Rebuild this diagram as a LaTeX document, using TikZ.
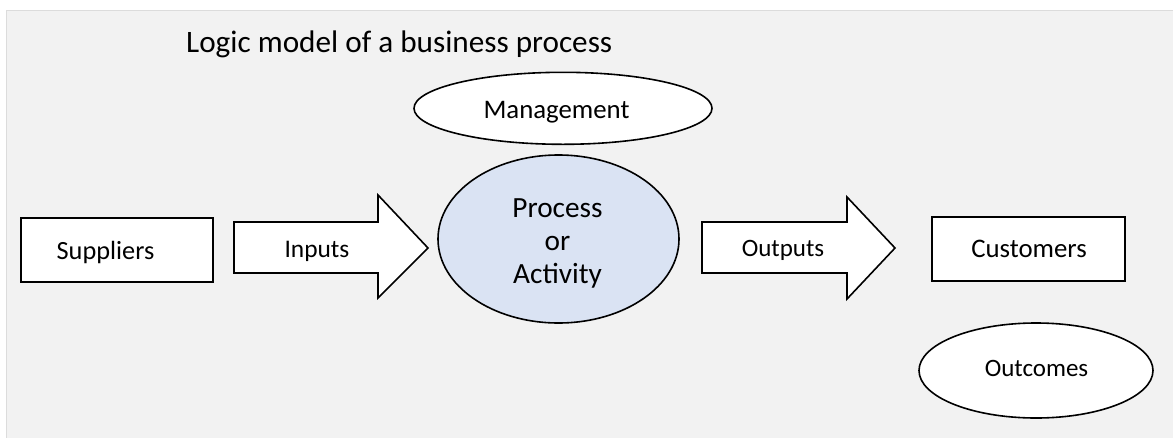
\documentclass[tikz,border=0pt]{standalone}
\usepackage{fontspec}
\setmainfont{Carlito}
\usetikzlibrary{shapes.geometric}
\definecolor{bggray}{HTML}{F2F2F2}
\definecolor{bgline}{HTML}{DCDCDC}
\definecolor{procblue}{HTML}{DAE3F3}
\tikzset{
  shapeline/.style={draw=black, line width=1.6pt, line join=miter},
  boxnode/.style={shapeline, fill=white, rectangle, inner sep=0pt},
  ovalnode/.style={shapeline, ellipse, inner sep=0pt},
  blockarrow/.style={shapeline, fill=white},
  lbl/.style={inner sep=0pt, anchor=base, font=\fontsize{25}{30}\selectfont},
}
\begin{document}
\begin{tikzpicture}[x=1pt, y=-1pt]
\useasboundingbox (0,0) rectangle (1173,437);
\fill[white] (0,0) rectangle (1173,437);
\draw[fill=bggray, draw=bgline, line width=1.5pt] (6.5,10.5) rectangle (1180,445);

% title
\node[inner sep=0pt, anchor=base west, font=\fontsize{31.2}{37}\selectfont] (title) at (186,52) {Logic model of a business process};

% management
\node[ovalnode, fill=white, minimum width=298pt, minimum height=72pt] (mgmt) at (563,108.3) {};
\node[lbl, font=\fontsize{26.8}{32}\selectfont] (mgmttext) at (556.5,118.3) {Management};

% suppliers
\node[boxnode, minimum width=192pt, minimum height=64pt] (sup) at (117,250) {};
\node[lbl, font=\fontsize{26.3}{31}\selectfont] (suptext) at (105.5,259) {Suppliers};

% inputs arrow
\coordinate (inA) at (234,222);
\coordinate (inTip) at (428,248);
\draw[blockarrow] (inA) -- (378,222) -- (378,195) -- (inTip) -- (378,298) -- (378,273) -- (234,273) -- cycle;
\node[lbl, font=\fontsize{25.4}{30}\selectfont] (intext) at (317,257.3) {Inputs};

% process
\node[ovalnode, fill=procblue, minimum width=241pt, minimum height=168pt] (proc) at (558.5,239) {};
\node[inner sep=0pt, align=center, font=\fontsize{29.3}{33}\selectfont] (proctext) at (557.5,243.5) {Process\\or\\Activity};

% outputs arrow
\coordinate (outA) at (702,222);
\coordinate (outTip) at (895,248);
\draw[blockarrow] (outA) -- (847,222) -- (847,197) -- (outTip) -- (847,299) -- (847,273) -- (702,273) -- cycle;
\node[lbl] (outtext) at (783,256.7) {Outputs};

% customers
\node[boxnode, minimum width=193pt, minimum height=64pt] (cust) at (1028.5,249) {};
\node[lbl, font=\fontsize{26.8}{32}\selectfont] (custtext) at (1029,257.3) {Customers};

% outcomes
\node[ovalnode, fill=white, minimum width=234pt, minimum height=95pt] (outc) at (1036,370.5) {};
\node[lbl] (outctext) at (1036.5,376.7) {Outcomes};
\end{tikzpicture}
\end{document}
